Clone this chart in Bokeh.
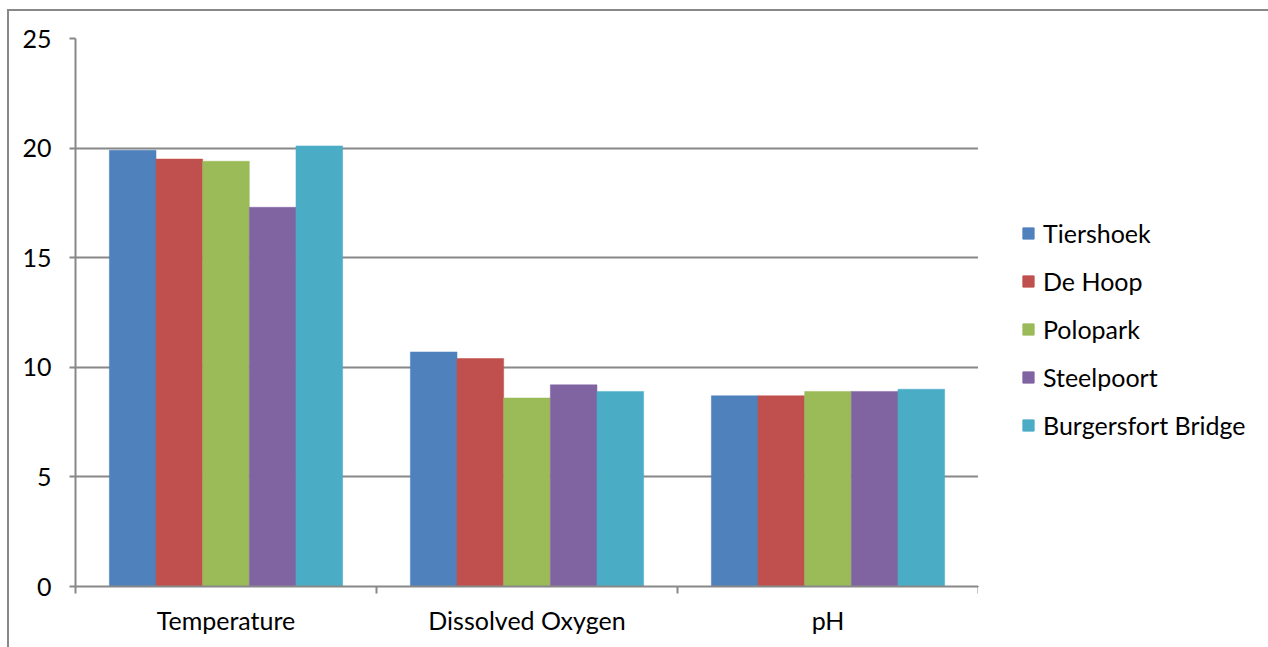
from bokeh.plotting import figure
from bokeh.layouts import row
from bokeh.models import (ColumnDataSource, Range1d, FixedTicker, Legend, LegendItem)
from bokeh.transform import dodge
from bokeh.embed import file_html
from bokeh.resources import INLINE

# Water quality parameters measured at five sampling sites
parameters = ["Temperature", "Dissolved Oxygen", "pH"]
sites = ["Tiershoek", "De Hoop", "Polopark", "Steelpoort", "Burgersfort Bridge"]
tiershoek = [19.9, 10.7, 8.7]
de_hoop = [19.5, 10.4, 8.7]
polopark = [19.4, 8.6, 8.9]
steelpoort = [17.3, 9.2, 8.9]
burgersfort_bridge = [20.1, 8.9, 9.0]
y_ticks = [0, 5, 10, 15, 20, 25]

colors = ["#4F81BD", "#C0504D", "#9BBB59", "#8064A2", "#4BACC6"]
series = [tiershoek, de_hoop, polopark, steelpoort, burgersfort_bridge]

FONT = "Lato"
FONT_SIZE = "25px"
GREY = "#888888"

# each parameter occupies one unit-wide slot; bars sit around the slot centre
centres = [i + 0.5 for i in range(len(parameters))]
source = ColumnDataSource(dict(
    pos=centres,
    **{f"s{i}": vals for i, vals in enumerate(series)}
))

p = figure(
    width=969, height=636,
    x_range=Range1d(0, len(parameters)),
    y_range=Range1d(0, 25),
    output_backend="svg", toolbar_location=None,
    min_border_left=66, min_border_right=0,
    min_border_top=27, min_border_bottom=61,
)
p.outline_line_color = None
p.background_fill_color = "white"
p.border_fill_color = "white"

bar_w = 0.155
offsets = [-2 * bar_w, -bar_w, 0, bar_w, 2 * bar_w]
for i, color in enumerate(colors):
    p.vbar(x=dodge("pos", offsets[i]), top=f"s{i}",
           width=bar_w, source=source, fill_color=color,
           line_color=color, line_width=0.5)

# y axis
yax = p.yaxis[0]
yax.ticker = FixedTicker(ticks=y_ticks)
yax.axis_line_color = GREY
yax.axis_line_width = 2
yax.major_tick_line_color = GREY
yax.major_tick_line_width = 2
yax.major_tick_out = 6
yax.major_tick_in = 0
yax.minor_tick_line_color = None
yax.major_label_standoff = 18
yax.major_label_text_font = FONT
yax.major_label_text_font_size = FONT_SIZE
yax.major_label_text_color = "black"

p.ygrid.ticker = FixedTicker(ticks=y_ticks)
p.ygrid.grid_line_color = GREY
p.ygrid.grid_line_width = 2
p.xgrid.grid_line_color = None

# x axis: ticks between slots, parameter names at slot centres
xax = p.xaxis[0]
xax.ticker = FixedTicker(ticks=centres, minor_ticks=list(range(len(parameters) + 1)))
xax.major_label_overrides = {c: name for c, name in zip(centres, parameters)}
xax.axis_line_color = GREY
xax.axis_line_width = 2
xax.major_tick_line_color = None
xax.major_tick_out = 0
xax.major_tick_in = 0
xax.minor_tick_line_color = GREY
xax.minor_tick_line_width = 2
xax.minor_tick_out = 7
xax.minor_tick_in = 0
xax.major_label_standoff = 11
xax.major_label_text_font = FONT
xax.major_label_text_font_size = FONT_SIZE
xax.major_label_text_color = "black"

# legend panel to the right of the chart; the swatch renderers only carry
# the series colours and sit outside the panel's visible range
key = figure(
    width=290, height=636,
    x_range=Range1d(0, 1), y_range=Range1d(0, 1),
    output_backend="svg", toolbar_location=None,
    min_border=0, outline_line_color=None,
)
key.axis.visible = False
key.grid.visible = False
key.border_fill_color = "white"
swatches = [key.vbar(x=[-5], top=[0], width=0.1, fill_color=c, line_color=c)
            for c in colors]

legend = Legend(
    items=[LegendItem(label=s, renderers=[r]) for s, r in zip(sites, swatches)],
    location=(43, 146),
    glyph_width=14, glyph_height=14,
    label_standoff=8, spacing=18,
    padding=0, margin=0,
    label_text_font=FONT, label_text_font_size=FONT_SIZE, label_text_color="black",
    border_line_color=None, background_fill_alpha=0,
)
key.add_layout(legend, "center")

chart = row(p, key)
chart.margin = (9, 0, 0, 7)
chart.styles = {"border-top": f"2px solid {GREY}", "border-left": f"2px solid {GREY}"}

open("out.html", "w").write(file_html(chart, INLINE))
